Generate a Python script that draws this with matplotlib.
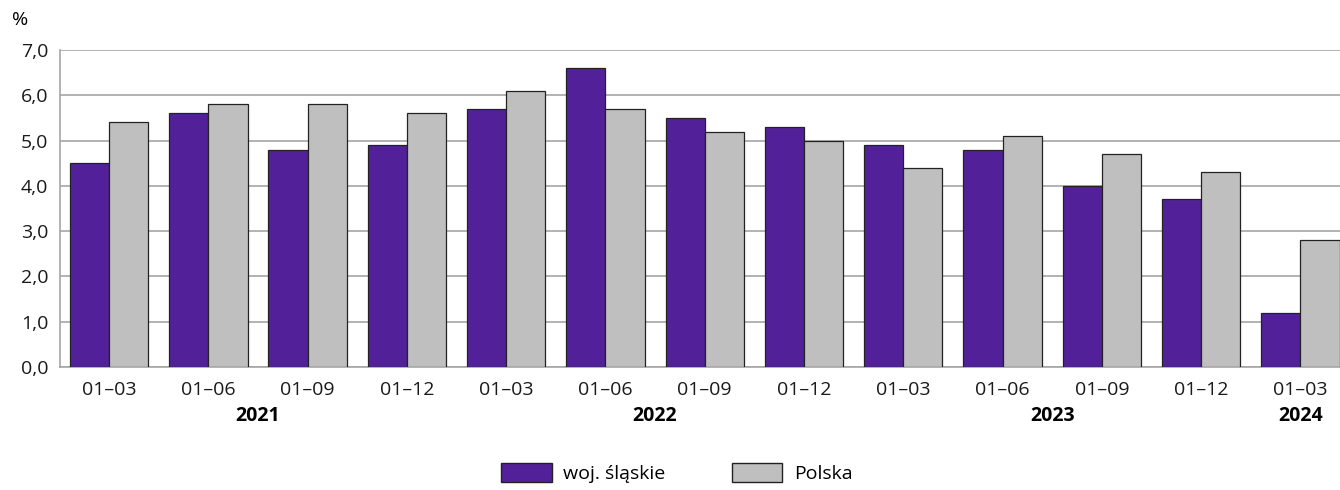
import numpy as np
import matplotlib.pyplot as plt
from matplotlib.patches import Patch

plt.rcParams['font.family'] = ['Open Sans', 'DejaVu Sans']

# dane
okresy = ['01–03', '01–06', '01–09', '01–12',
          '01–03', '01–06', '01–09', '01–12',
          '01–03', '01–06', '01–09', '01–12',
          '01–03']
lata = ['2021', '2022', '2023', '2024']
lata_pozycje = [1.5, 5.5, 9.5, 12]
slaskie = [4.5, 5.6, 4.8, 4.9, 5.7, 6.6, 5.5, 5.3, 4.9, 4.8, 4.0, 3.7, 1.2]
polska = [5.4, 5.8, 5.8, 5.6, 6.1, 5.7, 5.2, 5.0, 4.4, 5.1, 4.7, 4.3, 2.8]

kolor_slaskie = '#52219a'
kolor_polska = '#bfbfbf'

fig = plt.figure(figsize=(13.4, 4.9), dpi=100)
ax = fig.add_axes([59.5 / 1340, 1 - 367 / 490, 1280.5 / 1340, 317 / 490])

x = np.arange(len(okresy))
w = 0.395
ax.bar(x - w / 2, slaskie, w, color=kolor_slaskie, edgecolor='#222222', linewidth=0.9, zorder=3)
ax.bar(x + w / 2, polska, w, color=kolor_polska, edgecolor='#222222', linewidth=0.9, zorder=3)

ax.set_xlim(-0.5, 12.4)
ax.set_ylim(0, 7)
ax.set_yticks(np.arange(0, 7.1, 1))
ax.set_yticklabels([f'{v:.1f}'.replace('.', ',') for v in np.arange(0, 7.1, 1)])
ax.yaxis.grid(True, color='#a6a6a6', linewidth=1.2, zorder=0)
ax.set_axisbelow(True)

ax.set_xticks(x)
ax.set_xticklabels(okresy)
ax.tick_params(axis='both', length=0, labelsize=14, colors='#1a1a1a')
ax.tick_params(axis='x', pad=10)
ax.tick_params(axis='y', pad=8)

for s in ['top', 'right']:
    ax.spines[s].set_visible(False)
for s in ['left', 'bottom']:
    ax.spines[s].set_color('#a6a6a6')
    ax.spines[s].set_linewidth(1.2)

for rok, pos in zip(lata, lata_pozycje):
    ax.text(pos, -1.08, rok, ha='center', va='center', fontsize=14, fontweight='bold')

fig.text(20 / 1340, 1 - 20 / 490, '%', fontsize=14, ha='center', va='center')

uchwyty = [Patch(facecolor=kolor_slaskie, edgecolor='#222222', label='woj. śląskie'),
           Patch(facecolor=kolor_polska, edgecolor='#222222', label='Polska')]
fig.legend(handles=uchwyty, loc='center', bbox_to_anchor=(0.505, 1 - 473 / 490), ncol=2,
           frameon=False, fontsize=14, handlelength=2.6, handleheight=1.1,
           columnspacing=3.4, handletextpad=0.6)

plt.savefig('out.png', dpi=100)
